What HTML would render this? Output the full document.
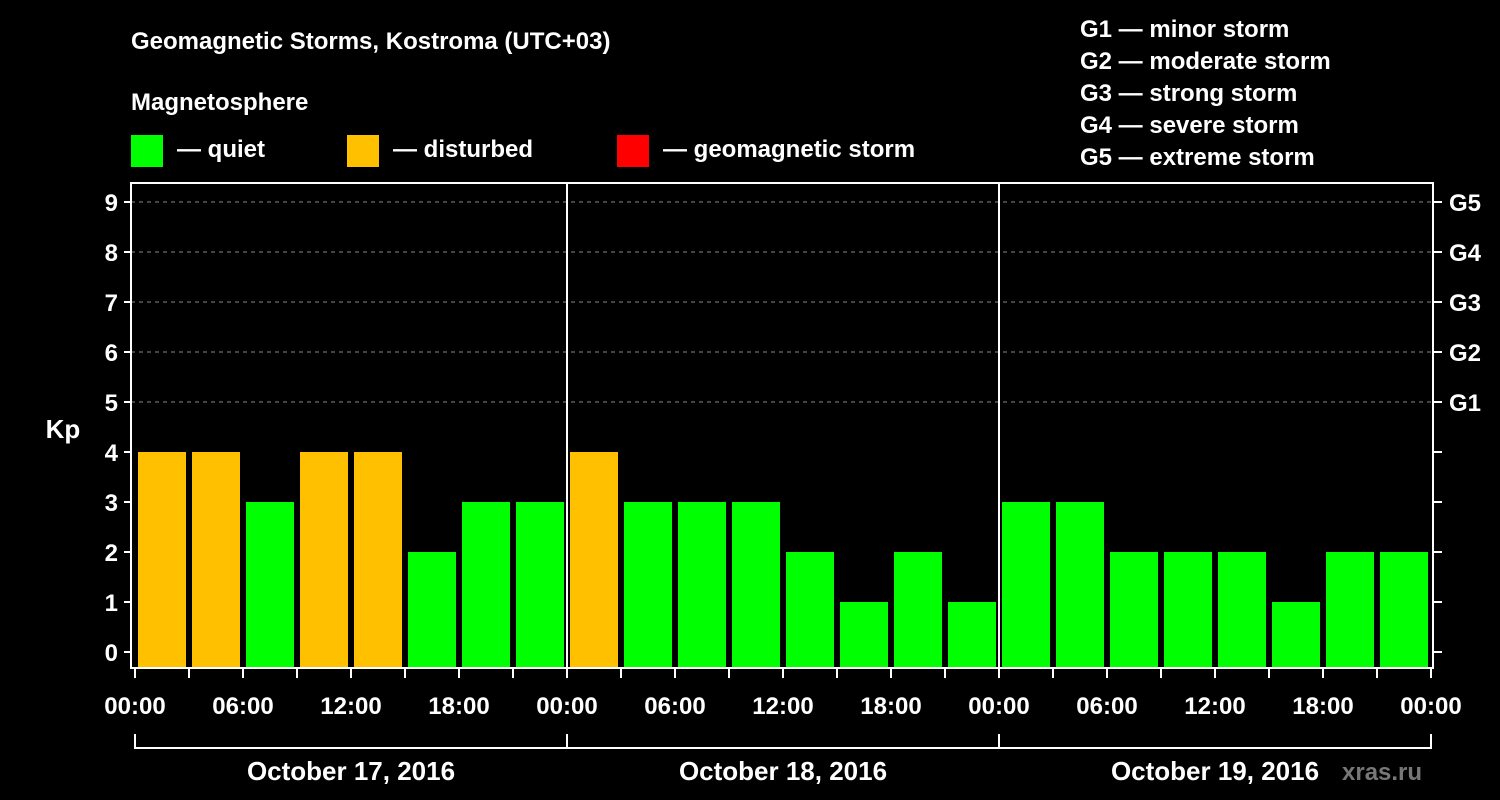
<!DOCTYPE html>
<html><head><meta charset="utf-8"><style>
html,body{margin:0;padding:0;background:#000;}
svg{display:block;font-family:"Liberation Sans",sans-serif;font-weight:bold;}
</style></head><body>
<svg id="chart" width="1500" height="800" viewBox="0 0 1500 800">
<text x="131" y="49" fill="#fff" font-size="24">Geomagnetic Storms, Kostroma (UTC+03)</text>
<text x="131" y="110" fill="#fff" font-size="24">Magnetosphere</text>
<g><rect x="131" y="135" width="32" height="32" fill="#00ff00"/><text x="177" y="157" fill="#fff" font-size="24">— quiet</text></g>
<g><rect x="347" y="135" width="32" height="32" fill="#ffc000"/><text x="393" y="157" fill="#fff" font-size="24">— disturbed</text></g>
<g><rect x="617" y="135" width="32" height="32" fill="#ff0000"/><text x="663" y="157" fill="#fff" font-size="24">— geomagnetic storm</text></g>
<g fill="#fff" font-size="24">
<text x="1080" y="37">G1 — minor storm</text>
<text x="1080" y="69">G2 — moderate storm</text>
<text x="1080" y="101">G3 — strong storm</text>
<text x="1080" y="133">G4 — severe storm</text>
<text x="1080" y="165">G5 — extreme storm</text>
</g>
<text x="63" y="438" fill="#fff" font-size="26" text-anchor="middle">Kp</text>
<text x="1342" y="780" fill="#777" font-size="24">xras.ru</text>
<g id="plot"></g>
</svg>
<script>
const days = ["October 17, 2016","October 18, 2016","October 19, 2016"];
const kpValues = [4,4,3,4,4,2,3,3, 4,3,3,3,2,1,2,1, 3,3,2,2,2,1,2,2];
const yTicks = [0,1,2,3,4,5,6,7,8,9];
const gLabels = ["G1","G2","G3","G4","G5"];
const timeLabels = ["00:00","06:00","12:00","18:00"];

const L=131,R=1433,T=183,B=668, X0=135, dayW=432;
const y = v => 652 - v*50;
const x = slot => X0 + slot*54;
const ns="http://www.w3.org/2000/svg";
const g=document.getElementById('plot');
function mk(tag,attrs,parent){const e=document.createElementNS(ns,tag);for(const k in attrs)e.setAttribute(k,attrs[k]);(parent||g).appendChild(e);return e;}

// grid
for(let v=5;v<=9;v++){
  const e=mk('line',{x1:L,x2:R,y1:y(v),y2:y(v),stroke:'#888','stroke-dasharray':'4,4','stroke-width':1});
  
  
}
// bars
kpValues.forEach((v,i)=>{
  const top=y(v);
  const e=mk('rect',{x:x(i)+3,y:top,width:48,height:B-top,fill:v>=5?'#ff0000':(v>=4?'#ffc000':'#00ff00')});
  
  
});
// frame
const fr=mk('rect',{x:L,y:T,width:R-L,height:B-T,fill:'none',stroke:'#fff','stroke-width':2});


for(let d=1;d<days.length;d++){
  const e=mk('line',{x1:X0+d*dayW,x2:X0+d*dayW,y1:T,y2:B,stroke:'#fff','stroke-width':2});
  
  
}
// y ticks
yTicks.forEach(v=>{
  mk('line',{x1:L-7,x2:L,y1:y(v),y2:y(v),stroke:'#fff','stroke-width':2});
  mk('line',{x1:R,x2:R+9,y1:y(v),y2:y(v),stroke:'#fff','stroke-width':2});
  const t=mk('text',{x:L-13,y:y(v)+9,fill:'#fff','font-size':24,'text-anchor':'end'});
  t.textContent=v;
  
  
});
gLabels.forEach((s,i)=>{
  const t=mk('text',{x:1449,y:y(5+i)+9,fill:'#fff','font-size':24});
  t.textContent=s;
  
  
});
// x ticks
for(let i=0;i<=kpValues.length;i++){
  mk('line',{x1:x(i),x2:x(i),y1:B,y2:B+10,stroke:'#fff','stroke-width':2});
  if(i%2===0){
    const t=mk('text',{x:x(i),y:714,fill:'#fff','font-size':24,'text-anchor':'middle'});
    t.textContent=timeLabels[(i/2)%4];
    
    
  }
}
// day brackets
days.forEach((d,i)=>{
  const x1=X0+i*dayW,x2=x1+dayW;
  mk('path',{d:`M${x1},734V748H${x2}V734`,fill:'none',stroke:'#fff','stroke-width':2});
  const t=mk('text',{x:(x1+x2)/2,y:780,fill:'#fff','font-size':26,'text-anchor':'middle'});
  t.textContent=d;
  
  
});
</script>
</body></html>
